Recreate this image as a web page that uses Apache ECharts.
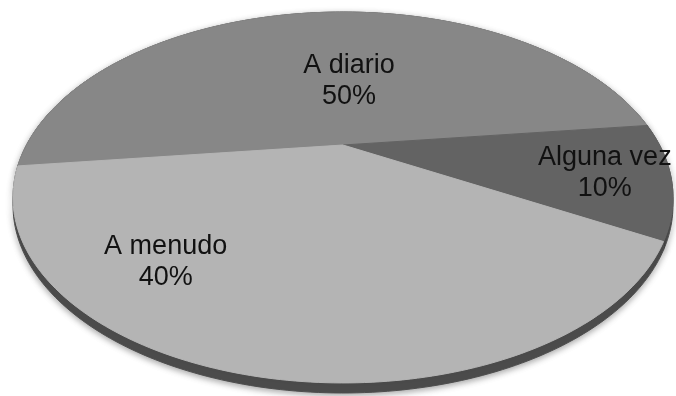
<!DOCTYPE html>
<html>
<head>
<meta charset="utf-8">
<script src="https://cdn.jsdelivr.net/npm/echarts@6/dist/echarts.min.js"></script>
<style>
  html, body { margin: 0; padding: 0; background: #ffffff; }
  #chart { width: 676px; height: 396px; }
</style>
</head>
<body>
<div id="chart"></div>
<script>
// Frequency of use, share of answers
const categories = ['A diario', 'Alguna vez', 'A menudo'];
const shares = [50, 10, 40];

// Slice fills, in the same order as the categories
const sliceColors = ['#878787', '#636363', '#b4b4b4'];
const rimColor = '#4e4e4e';

// Where each label sits inside its slice: [fraction along the sweep, fraction of radius]
const labelSpots = [[0.554, 0.42], [0.5, 0.806], [0.694, 0.743]];

// Tilted-disc view: centre of the disc on screen, horizontal/vertical scale,
// perspective strength, rim thickness and the angle where the first slice starts
const view = { cx: 343, cy: 145, sx: 316.5, sy: 170.6, k: 0.283, depth: 7.2, startAngle: 186.8 };

// Project a point of the unit disc (u to the right, v away from the viewer)
function project(u, v) {
  const w = 1 + view.k * v;
  return [view.cx + view.sx * u / w, view.cy - view.sy * v / w];
}
// Same point on the underside of the disc
function projectBase(u, v) {
  const w = 1 + view.k * v;
  return [view.cx + view.sx * u / w, view.cy + (view.depth - view.sy * v) / w];
}

const total = shares.reduce((a, b) => a + b, 0);
const starts = [];
let acc = 0;
shares.forEach(s => { starts.push(acc); acc += s; });
const seriesData = shares.map((s, i) => ({ name: categories[i], value: [starts[i], s] }));

function renderItem(params, api) {
  const i = params.dataIndex;
  const from = api.value(0);
  const size = api.value(1);
  const a0 = view.startAngle - from / total * 360;
  const a1 = a0 - size / total * 360;
  const steps = Math.max(8, Math.ceil(Math.abs(a1 - a0)));
  const top = [];
  const base = [];
  for (let j = 0; j <= steps; j++) {
    const a = (a0 + (a1 - a0) * j / steps) * Math.PI / 180;
    top.push(project(Math.cos(a), Math.sin(a)));
    base.push(projectBase(Math.cos(a), Math.sin(a)));
  }
  const wall = top.concat(base.slice().reverse());
  const face = [project(0, 0)].concat(top);
  const spot = labelSpots[i];
  const am = (a0 + (a1 - a0) * spot[0]) * Math.PI / 180;
  const lp = project(spot[1] * Math.cos(am), spot[1] * Math.sin(am));
  const pct = Math.round(size / total * 100) + '%';
  return {
    type: 'group',
    children: [
      {
        type: 'polygon', z2: 1,
        shape: { points: wall },
        style: { fill: rimColor, stroke: rimColor, lineWidth: 1,
                 shadowBlur: 6, shadowColor: 'rgba(0,0,0,0.35)', shadowOffsetY: 2 }
      },
      {
        type: 'polygon', z2: 5,
        shape: { points: face },
        style: { fill: sliceColors[i], stroke: sliceColors[i], lineWidth: 1 }
      },
      {
        type: 'text', z2: 10, x: lp[0], y: lp[1],
        style: {
          text: categories[i] + '\n' + pct,
          fill: '#111111',
          fontSize: 27,
          fontFamily: '"Liberation Sans", Arial, sans-serif',
          align: 'center',
          verticalAlign: 'middle',
          lineHeight: 31
        }
      }
    ]
  };
}

const chart = echarts.init(document.getElementById('chart'), null, { renderer: 'canvas' });
chart.setOption({
  backgroundColor: '#ffffff',
  animation: false,
  series: [{
    type: 'custom',
    coordinateSystem: 'none',
    silent: true,
    renderItem: renderItem,
    data: seriesData
  }]
});
</script>
</body>
</html>
